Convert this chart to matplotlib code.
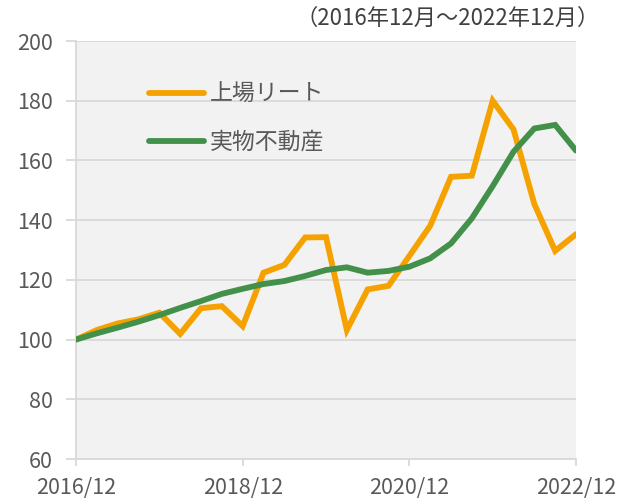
import numpy as np
import matplotlib.pyplot as plt

plt.rcParams['font.family'] = ['Noto Sans CJK JP', 'DejaVu Sans']

# ================= data =================
# quarterly index, 2016/12 = 100
quarters = np.arange(25)
reit = [100, 103.2, 105.4, 106.8, 109.0, 101.9, 110.5, 111.2, 104.5, 122.4,
        125.0, 134.2, 134.3, 103.2, 116.8, 118.0, 128.0, 138.1, 154.5, 154.9,
        180.0, 170.4, 145.4, 129.7, 135.3]
real_estate = [100, 102.1, 104.0, 106.0, 108.2, 110.6, 112.9, 115.3, 117.0, 118.6,
               119.6, 121.3, 123.3, 124.2, 122.4, 123.0, 124.4, 127.2, 132.2, 140.6,
               151.4, 162.9, 170.7, 171.9, 163.3]
xtick_pos = [0, 8, 16, 24]
xtick_labels = ['2016/12', '2018/12', '2020/12', '2022/12']
labels = ['上場リート', '実物不動産']

# ================= plot =================
fig = plt.figure(figsize=(6.3, 4.99), dpi=100)
ax = fig.add_axes([76/630, 40/499, 500/630, 418/499])
ax.set_facecolor('#f2f2f2')

ax.plot(quarters, reit, color='#f5a200', lw=4.2, label=labels[0],
        solid_joinstyle='miter', solid_capstyle='round', zorder=3)
ax.plot(quarters, real_estate, color='#43904a', lw=4.2, label=labels[1],
        solid_joinstyle='miter', solid_capstyle='round', zorder=3)

ax.set_xlim(0, 24)
ax.set_ylim(60, 200)
ax.set_yticks(np.arange(60, 201, 20))
ax.set_xticks(xtick_pos)
ax.set_xticklabels(xtick_labels)
ax.grid(axis='y', color='#d9d9d9', lw=1.3, zorder=1)

for s in ['top', 'right']:
    ax.spines[s].set_visible(False)
for s in ['bottom', 'left']:
    ax.spines[s].set_color('#d9d9d9')
    ax.spines[s].set_linewidth(1.3)

ax.tick_params(axis='y', length=7, color='#d9d9d9', width=1.3, labelsize=15.5,
               labelcolor='#595959', pad=10)
ax.tick_params(axis='x', length=5, color='#d9d9d9', width=1.3, labelsize=15.5,
               labelcolor='#595959', pad=8)

leg = ax.legend(loc='center left', bbox_to_anchor=((149-76)/500, (459-118.5)/418),
                frameon=False, fontsize=16.5, handlelength=2.4, labelspacing=1.07,
                handletextpad=0.25, borderaxespad=0, borderpad=0)
for t in leg.get_texts():
    t.set_color('#595959')

fig.text(600/630, 1 - 18/499, '（2016年12月～2022年12月）', ha='right', va='center',
         fontsize=16, color='#404040')

fig.savefig('out.png', dpi=100)
